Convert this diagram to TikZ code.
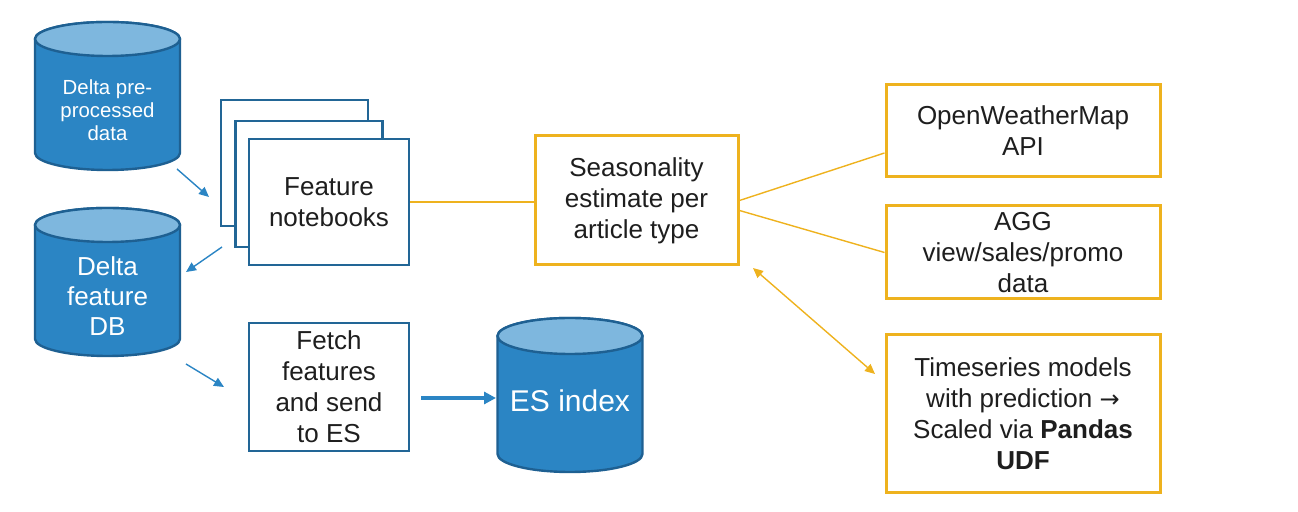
\documentclass[tikz,border=0pt]{standalone}
\usepackage{fontspec}
\setmainfont{Liberation Sans}
\newfontfamily\arrowfont{DejaVu Sans}
\usetikzlibrary{arrows.meta,positioning}
\definecolor{dbfill}{RGB}{43,133,196}
\definecolor{dbtop}{RGB}{126,183,222}
\definecolor{dbline}{RGB}{30,96,146}
\definecolor{nbline}{RGB}{34,102,150}
\definecolor{ylw}{RGB}{238,178,30}
\definecolor{txtgray}{RGB}{30,30,30}

% cylinder: center, half width, half height, cap radius (pt)
\newcommand{\dbcyl}[4]{%
  \begin{scope}[shift={#1}]
    \draw [fill=dbfill,draw=dbline,line width=1.2pt] (-#2,#3-#4) -- (-#2,-#3+#4)
      arc [start angle=180,end angle=360,x radius=#2,y radius=#4] -- (#2,#3-#4)
      arc [start angle=0,end angle=180,x radius=#2,y radius=#4] -- cycle;
    \draw [fill=dbtop,draw=dbline,line width=1.2pt] (0pt,#3-#4) ellipse [x radius=#2,y radius=#4];
  \end{scope}}

\begin{document}
\begin{tikzpicture}[x=0.5pt,y=-0.5pt,>={Triangle[length=5pt,width=4.5pt]},
    dbtxt/.style={text=white,align=center,font=\fontsize{13}{15}\selectfont},
    nb/.style={draw=nbline,line width=1.4pt,fill=white,inner sep=0pt},
    yb/.style={draw=ylw,line width=1.5pt,fill=white,inner sep=0pt},
    txt/.style={text=txtgray,align=center,font=\fontsize{13}{15.5}\selectfont}]
    \useasboundingbox (0,0) rectangle (1298,512);

    %%%% data stores
    \dbcyl{(107.5,96)}{36.25pt}{37pt}{8.5pt}
    \node (pre) at (107.5,110) [dbtxt,font=\fontsize{10.2}{11.5}\selectfont] {Delta pre-\\processed\\data}; %
    \dbcyl{(107.5,282)}{36.25pt}{37pt}{8.5pt}
    \node (feat) at (107.5,296) [dbtxt] {Delta\\feature\\DB}; %
    \dbcyl{(570,395)}{36.25pt}{38.5pt}{9pt}
    \node (es) at (570,401) [dbtxt,font=\fontsize{15}{17}\selectfont] {ES index}; %

    %%%% notebooks
    \node (nb3) at (294.5,163) [nb,minimum width=73.5pt,minimum height=63pt] {}; %
    \node (nb2) at (309,184) [nb,minimum width=73.5pt,minimum height=63pt] {}; %
    \node (nb1) at (329,202) [nb,minimum width=80pt,minimum height=63pt,txt] {Feature\\notebooks}; %
    \node (fetch) at (329,387) [nb,minimum width=80pt,minimum height=64pt,txt] {Fetch\\features\\and send\\to ES}; %

    %%%% yellow boxes
    \node (season) at (636.5,200.5) [yb,minimum width=101.5pt,minimum height=64.5pt,txt] {Seasonality\\estimate per\\article type}; %
    \node (owm) at (1023,131) [yb,minimum width=137pt,minimum height=46pt,txt] {OpenWeatherMap\\API}; %
    \node (agg) at (1023,252.5) [yb,minimum width=137pt,minimum height=46.5pt,txt] {AGG\\view/sales/promo\\data}; %
    \node (ts) at (1023,414) [yb,minimum width=137pt,minimum height=79pt,txt] {Timeseries models\\with prediction {\arrowfont\fontsize{12}{15}\selectfont →}\\Scaled via \textbf{Pandas}\\\textbf{UDF}}; %

    %%%% free arrow ends
    \coordinate (a1) at (177,169); \coordinate (b1) at (209,197);
    \coordinate (a2) at (222,247); \coordinate (b2) at (186,272);
    \coordinate (a3) at (186,364); \coordinate (b3) at (224,387);
    \coordinate (a4) at (421,398); \coordinate (b4) at (496,398);
    \coordinate (a5) at (753,268); \coordinate (b5) at (875,374);

    %%%% arcs
    \draw [color=dbfill,line width=.7pt,->] (a1) to (b1); %
    \draw [color=dbfill,line width=.7pt,->] (a2) to (b2); %
    \draw [color=dbfill,line width=.7pt,->] (a3) to (b3); %
    \draw [color=dbfill,line width=1.6pt,->,>={Triangle[length=6pt,width=6pt]}] (a4) to (b4); %
    \draw [color=ylw,line width=.7pt] (nb1.east) to (nb1.east -| season.west); %
    \draw [color=ylw,line width=.7pt] (season.east) to ([yshift=-11pt]owm.west); %
    \draw [color=ylw,line width=.7pt] ([yshift=-5pt]season.east) to (agg.west); %
    \draw [color=ylw,line width=.7pt,<->] (a5) to (b5); %
  \end{tikzpicture}
\end{document}
